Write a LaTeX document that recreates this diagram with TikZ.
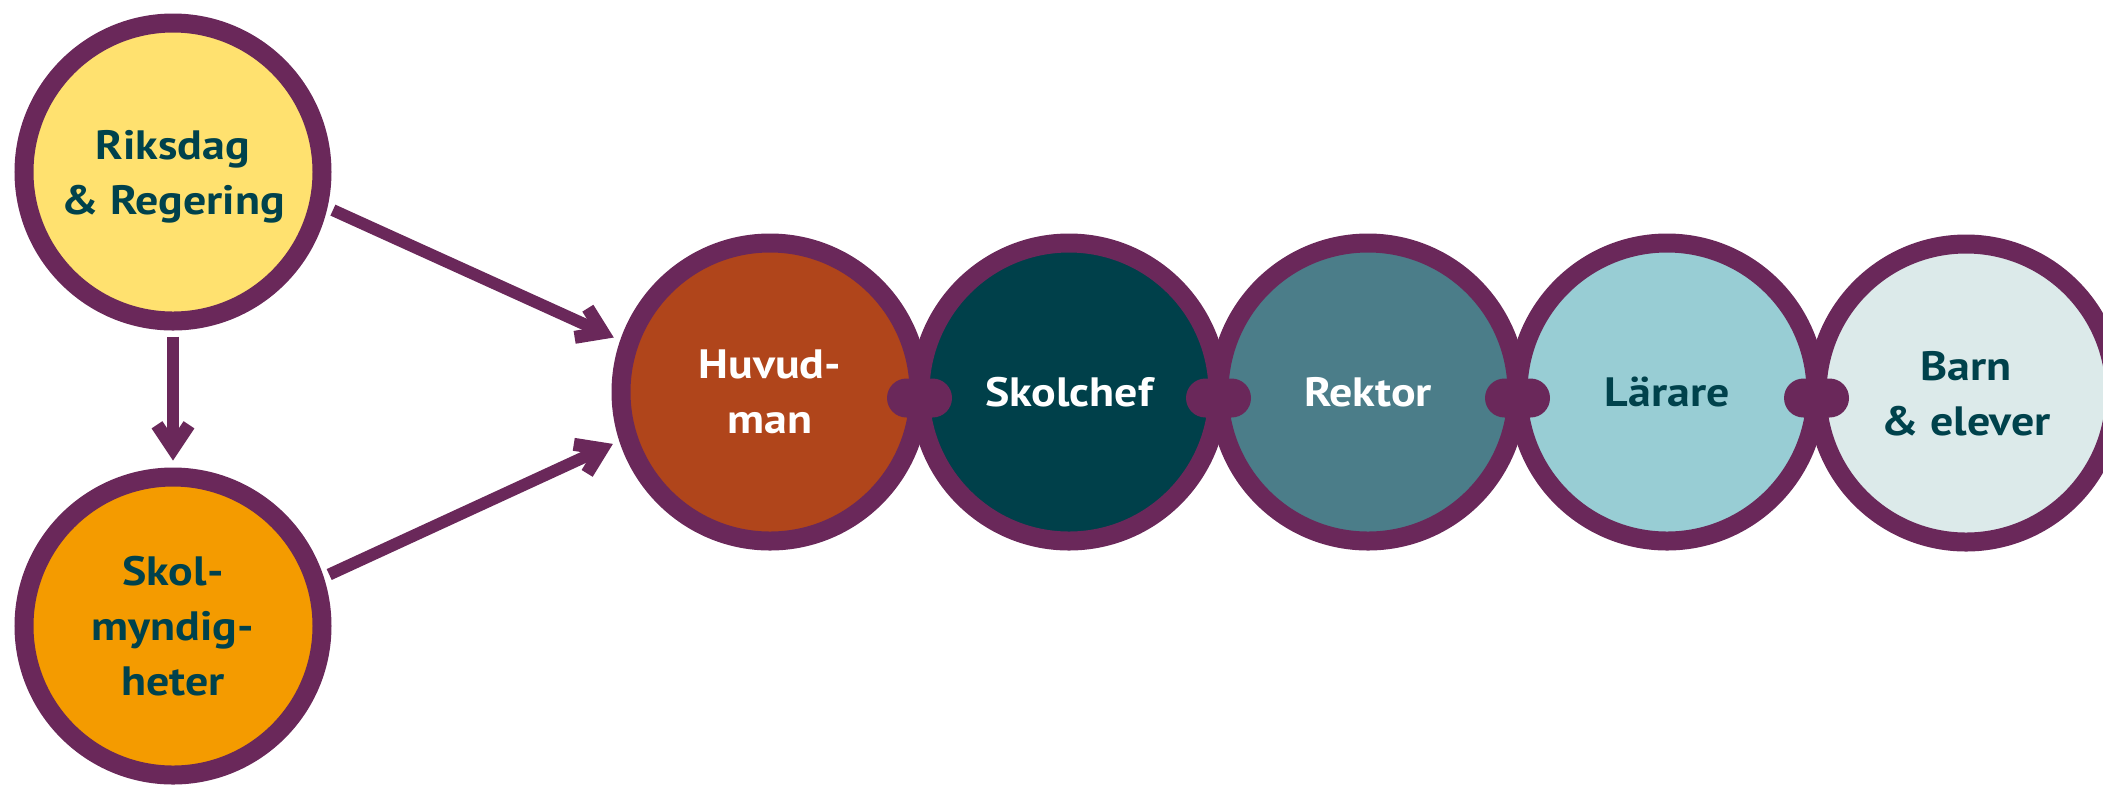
\documentclass[tikz,border=0pt]{standalone}
\usepackage{fontspec}
\setmainfont{PT Sans}[FakeStretch=1.12]
\usepackage{tikz}
\usetikzlibrary{arrows.meta}

\definecolor{plum}{HTML}{6A285A}
\definecolor{ink}{HTML}{00424C}
\definecolor{sun}{HTML}{FFE16F}
\definecolor{amber}{HTML}{F49B00}
\definecolor{rust}{HTML}{B0451B}
\definecolor{petrol}{HTML}{00404A}
\definecolor{slate}{HTML}{4B7D89}
\definecolor{sky}{HTML}{98CDD4}
\definecolor{mist}{HTML}{DCEAEA}

\begin{document}
\begin{tikzpicture}[x=0.5pt, y=-0.5pt,
    ring/.style={shape=circle, minimum size=149pt, inner sep=0pt, line width=9.5pt, draw=plum,
      font=\fontsize{20.5}{27.5}\selectfont\bfseries, text=ink, align=center, text depth=0pt},
    link/.style={shape=rectangle, minimum width=32.5pt, minimum height=19.5pt,
      rounded corners=9.75pt, inner sep=0pt, fill=plum},
    arr/.style={line width=6pt, draw=plum, -{Straight Barb[sharp, length=12pt, width=16pt, line width=6.5pt]},
      shorten <=3pt, shorten >=3.5pt}]
    \useasboundingbox (0,0) rectangle (2103,784);

    % left column
    \node[ring, fill=sun] (rik) at (173,172) {Riksdag\\\& Regering};
    \node[ring, fill=amber] (skm) at (173,626) {Skol-\\myndig-\\heter};

    % chain
    \node[ring, fill=rust, text=white] (huv) at (770,392) {Huvud-\\man};
    \node[ring, fill=petrol, text=white] (sko) at (1069,392) {Skolchef};
    \node[ring, fill=slate, text=white] (rek) at (1368,392) {Rektor};
    \node[ring, fill=sky] (lar) at (1667,392) {Lärare};
    \node[ring, fill=mist] (bar) at (1966,393) {Barn\\\& elever};

    \node[link] (l1) at (919.5,398) {};
    \node[link] (l2) at (1218.5,398) {};
    \node[link] (l3) at (1517.5,398) {};
    \node[link] (l4) at (1816.5,398) {};

    % arrows
    \draw[arr] (rik.south) -- (skm.north);
    \draw[arr] (rik.347) -- (huv.161);
    \draw[arr] (skm.18) -- (huv.198);
  \end{tikzpicture}
\end{document}
